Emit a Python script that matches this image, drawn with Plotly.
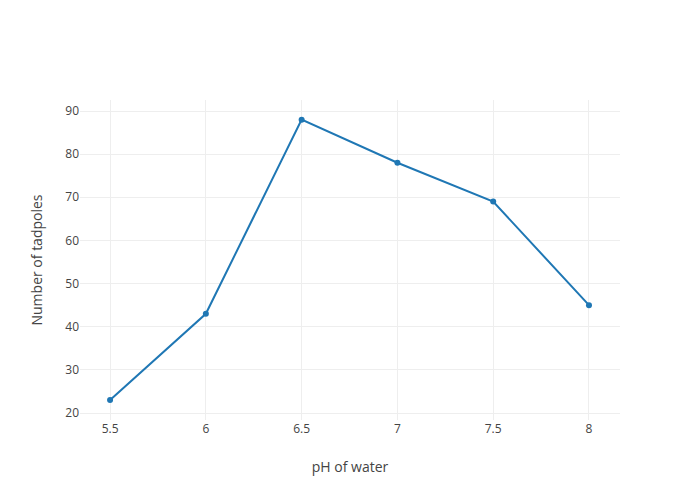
import plotly.graph_objects as go

ph_values = [5.5, 6, 6.5, 7, 7.5, 8]
tadpoles = [23, 43, 88, 78, 69, 45]

fig = go.Figure(
    go.Scatter(
        x=ph_values,
        y=tadpoles,
        mode="lines+markers",
        line=dict(color="#1f77b4", width=2),
        marker=dict(color="#1f77b4", size=6),
    )
)

fig.update_layout(
    template="none",
    width=692,
    height=492,
    margin=dict(l=72, r=80, t=92, b=80),
    paper_bgcolor="white",
    plot_bgcolor="white",
    font=dict(family="Open Sans, sans-serif", color="#444", size=12),
    showlegend=False,
    xaxis=dict(
        title=dict(text="pH of water", font=dict(size=14)),
        range=[5.343, 8.162],
        tickvals=ph_values,
        ticktext=["5.5", "6", "6.5", "7", "7.5", "8"],
        showgrid=True,
        gridcolor="#eee",
        zeroline=False,
        showline=False,
        ticks="",
    ),
    yaxis=dict(
        title=dict(text="Number of tadpoles", font=dict(size=14)),
        range=[18.38, 92.55],
        dtick=10,
        showgrid=True,
        gridcolor="#eee",
        zeroline=False,
        showline=False,
        ticks="",
    ),
)

fig.write_html("out.html")
